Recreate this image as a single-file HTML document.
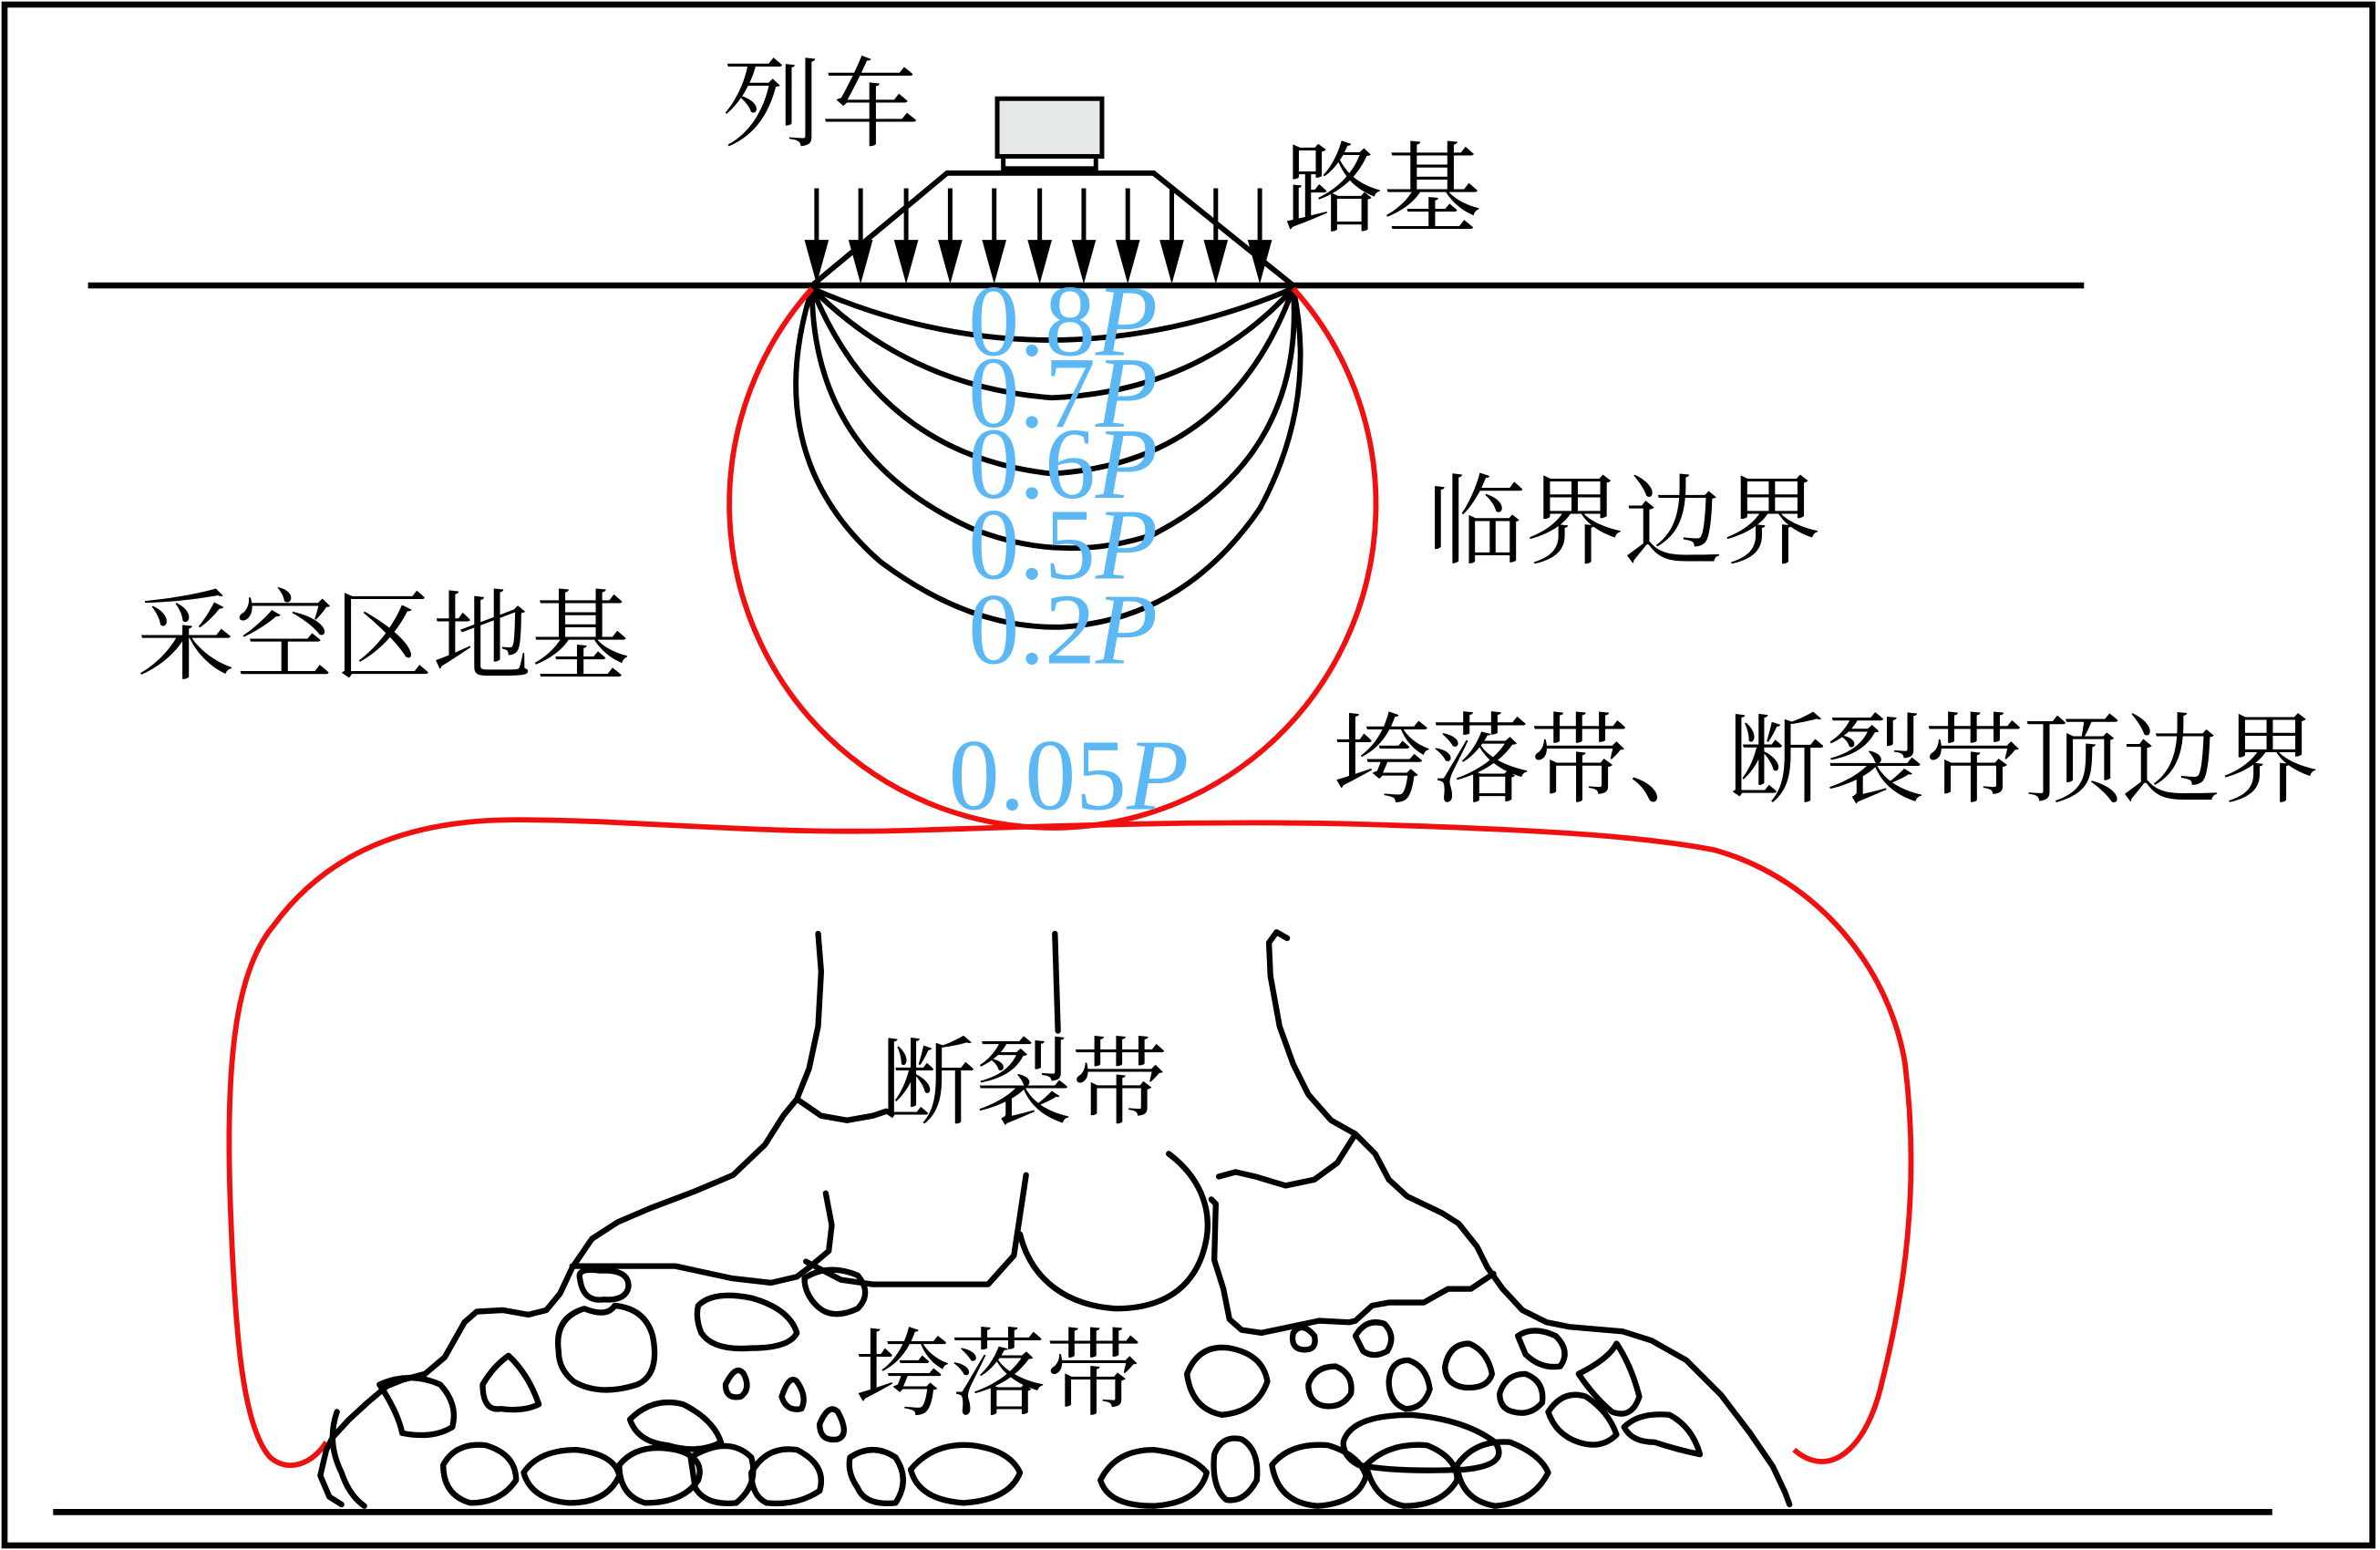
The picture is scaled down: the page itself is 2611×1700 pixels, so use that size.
<!DOCTYPE html>
<html><head><meta charset="utf-8"><style>
html,body{margin:0;padding:0;background:#fff}
svg{display:block}
.cj{font-family:"Liberation Serif","Noto Serif CJK SC",serif;fill:#000}
.bl{font-family:"Liberation Serif",serif;fill:#5bb8f4}
</style></head><body>
<svg width="2611" height="1700" viewBox="0 0 1568 1021" preserveAspectRatio="none" xmlns="http://www.w3.org/2000/svg">
<rect x="0" y="0" width="1568" height="1021" fill="#fff"/>
<rect x="3" y="3" width="1560" height="1015" fill="none" stroke="#000" stroke-width="4"/>
<line x1="58" y1="188" x2="1373" y2="188" stroke="#000" stroke-width="4"/>
<line x1="35" y1="996" x2="1497" y2="996" stroke="#000" stroke-width="4"/>
<!-- train -->
<rect x="657" y="65" width="69" height="38" fill="#e4e8e8" stroke="#000" stroke-width="3"/>
<rect x="661" y="103" width="61" height="8" fill="#fff" stroke="#000" stroke-width="3"/>
<polyline points="535,188 624,114 760,114 852,188" fill="none" stroke="#000" stroke-width="3.5"/>
<g stroke="#000" stroke-width="3">
<line x1="538" y1="124" x2="538" y2="160"/><line x1="567" y1="124" x2="567" y2="160"/><line x1="597" y1="124" x2="597" y2="160"/><line x1="626" y1="124" x2="626" y2="160"/><line x1="655" y1="124" x2="655" y2="160"/><line x1="685" y1="124" x2="685" y2="160"/><line x1="714" y1="124" x2="714" y2="160"/><line x1="743" y1="124" x2="743" y2="160"/><line x1="772" y1="124" x2="772" y2="160"/><line x1="801" y1="124" x2="801" y2="160"/><line x1="830" y1="124" x2="830" y2="160"/>
</g>
<g fill="#000">
<polygon points="530,158 546,158 538,187"/><polygon points="559,158 575,158 567,187"/><polygon points="589,158 605,158 597,187"/><polygon points="618,158 634,158 626,187"/><polygon points="647,158 663,158 655,187"/><polygon points="677,158 693,158 685,187"/><polygon points="706,158 722,158 714,187"/><polygon points="735,158 751,158 743,187"/><polygon points="764,158 780,158 772,187"/><polygon points="793,158 809,158 801,187"/><polygon points="822,158 838,158 830,187"/>
</g>
<!-- contours -->
<g fill="none" stroke="#000" stroke-width="3.5">
<path d="M535,190 Q690,258 852,190"/>
<path d="M535,190 Q600,255 693,262 Q790,258 852,190"/>
<path d="M535,190 Q580,300 693,312 Q810,305 852,190"/>
<path d="M535,190 Q535,300 640,348 Q700,372 760,352 Q860,300 852,190"/>
<path d="M535,190 Q500,300 580,370 Q640,415 700,413 Q780,408 830,335 Q868,265 852,190"/>
</g>
<!-- red boundaries -->
<path d="M535,190 A213,213 0 1,0 852,190" fill="none" stroke="#f01010" stroke-width="3.5"/>
<path d="M215,950 C205,965 190,970 178,960 C160,940 155,880 152,800 C148,700 155,640 180,610 C220,555 280,540 340,540 C420,540 500,550 600,547 C700,544 800,540 900,543 C1000,546 1080,550 1130,560 C1200,580 1245,640 1255,700 C1265,780 1255,850 1240,910 C1230,955 1205,975 1182,955" fill="none" stroke="#f01010" stroke-width="3.5"/>
<!-- fracture/caving structure -->
<g fill="none" stroke="#000" stroke-width="3.8" stroke-linejoin="round" stroke-linecap="round">
<polyline points="539,615 541,640 539,676 533,704 525,724 516,735 504,754 483,774 457,785 428,796 407,805 390,816 377,835 369,852 360,863 348,866 331,863 314,864 306,871 293,894 280,905 265,909 255,913 242,924 230,935 219,947 215,955 211,972 217,986 225,991"/>
<polyline points="525,724 541,735 558,738 575,735 584,732"/>
<polyline points="695,615 697,679"/>
<polyline points="544,786 548,807 546,824 533,835 525,841 508,845 482,842 445,834 377,834"/>
<polyline points="531,831 554,843 575,846 651,846 668,827 676,774"/>
<path d="M672,813 C680,845 705,860 735,862 C770,862 790,845 795,815 C798,795 790,775 770,760"/>
<polyline points="848,618 841,614 836,621 837,643 843,676 852,701 862,721 877,738 893,747 906,760 915,777 927,788 950,799 961,806 973,821 980,835 990,849 1003,863 1019,871 1034,874 1069,877 1088,883 1111,896 1134,919 1153,944 1168,966 1176,983 1179,991"/>
<polyline points="893,747 881,766 866,777 847,781 827,775 814,772 803,775"/>
<polyline points="798,790 801,793 800,830 806,849 810,869 818,876 831,878 850,874 869,870 889,871 893,870 904,860 915,858 938,858 954,849 969,849 984,839"/>
<!-- left rubble -->
<path d="M382,842 Q380,835 395,837 Q415,836 414,848 Q412,857 398,856 Q384,858 382,842Z"/>
<path d="M368,890 Q365,868 385,862 Q400,868 405,860 Q425,862 430,880 Q435,905 420,912 Q395,920 378,910 Q368,902 368,890Z"/>
<path d="M460,860 Q470,850 495,855 Q520,862 525,878 Q520,888 495,888 Q470,890 462,878 Q458,868 460,860Z"/>
<path d="M530,842 Q545,832 565,840 Q575,852 565,862 Q548,870 538,860 Q530,852 530,842Z"/>
<path d="M318,912 Q325,900 335,893 Q348,905 355,925 Q345,930 330,928 Q318,930 318,912Z"/>
<path d="M250,912 Q270,903 290,912 Q302,925 298,940 Q285,948 265,944 Q262,930 250,912Z"/>
<path d="M478,912 Q485,898 490,905 Q495,915 488,920 Q478,922 478,912Z"/>
<path d="M515,920 Q520,905 525,910 Q532,920 528,928 Q518,930 515,920Z"/>
<path d="M540,938 Q546,924 552,930 Q560,945 552,948 Q540,950 540,938Z"/>
<path d="M415,935 Q430,920 450,925 Q470,935 475,950 Q460,958 440,952 Q420,950 415,935Z"/>
<path d="M292,965 Q300,950 320,952 Q340,958 340,975 Q330,990 310,990 Q292,985 292,965Z"/>
<path d="M345,970 Q355,955 380,955 Q405,958 408,972 Q400,990 375,990 Q350,988 345,970Z"/>
<path d="M408,965 Q420,950 445,955 Q465,960 460,975 Q450,990 425,990 Q408,985 408,965Z"/>
<path d="M455,960 Q480,945 495,960 Q500,978 485,990 Q465,992 458,980Z"/>
<path d="M495,970 Q505,952 525,955 Q545,965 540,982 Q525,992 505,990 Q495,985 495,970Z"/>
<path d="M560,960 Q575,950 590,960 Q600,975 590,990 Q570,992 565,980 Q558,970 560,960Z"/>
<path d="M600,968 Q615,950 640,952 Q665,955 672,970 Q665,988 635,990 Q605,988 600,968Z"/>
<path d="M222,930 Q215,950 225,970 Q230,985 240,992"/>
<!-- right rubble -->
<path d="M782,905 Q790,885 810,888 Q832,892 835,910 Q828,930 805,932 Q785,928 782,905Z"/>
<path d="M852,878 Q858,870 866,880 Q868,890 858,889 Q850,888 852,878Z"/>
<path d="M862,912 Q866,900 880,900 Q892,905 890,918 Q884,928 872,926 Q862,924 862,912Z"/>
<path d="M893,880 Q900,868 912,872 Q920,880 914,890 Q905,895 898,890Z"/>
<path d="M915,910 Q916,896 928,896 Q940,900 942,915 Q938,928 926,928 Q915,924 915,910Z"/>
<path d="M952,900 Q955,885 968,885 Q980,890 983,905 Q980,915 965,914 Q952,912 952,900Z"/>
<path d="M1000,880 Q1010,873 1025,880 Q1035,890 1028,900 Q1015,902 1005,892Z"/>
<path d="M988,918 Q992,905 1005,905 Q1018,910 1016,924 Q1008,933 997,930 Q988,928 988,918Z"/>
<path d="M885,950 Q890,932 930,932 Q965,935 985,950 Q995,965 965,968 Q920,970 895,965 Q885,960 885,950Z"/>
<path d="M725,975 Q735,955 760,955 Q785,958 795,970 Q790,990 760,992 Q730,992 725,975Z"/>
<path d="M800,958 Q805,945 818,948 Q830,955 828,975 Q820,990 808,988 Q798,980 800,958Z"/>
<path d="M838,965 Q850,950 875,952 Q895,958 900,972 Q895,990 868,992 Q842,990 838,965Z"/>
<path d="M900,965 Q915,950 940,952 Q960,960 960,975 Q950,992 925,992 Q905,988 900,965Z"/>
<path d="M960,965 Q972,948 995,950 Q1015,958 1020,970 Q1010,990 985,992 Q962,988 960,965Z"/>
<path d="M1020,930 Q1030,915 1045,920 Q1060,930 1065,945 Q1055,955 1040,950 Q1025,945 1020,930Z"/>
<path d="M1070,940 Q1080,930 1100,932 Q1115,940 1120,958 Q1105,955 1090,950 Q1075,950 1070,940Z"/>
<path d="M1040,905 Q1060,895 1065,885 Q1075,900 1080,920 Q1075,935 1062,930 Q1050,920 1040,905Z"/>
</g>
<!-- labels -->
<g class="cj" font-size="65">
<text x="476" y="91">列车</text>
<text x="846" y="147">路基</text>
<text x="940" y="366">临界边界</text>
<text x="90" y="442">采空区地基</text>
<text x="878" y="523">垮落带、断裂带顶边界</text>
</g>
<g class="cj" font-size="63">
<text x="580" y="735">断裂带</text>
<text x="563" y="927">垮落带</text>
</g>
<g class="bl" font-size="67">
<text x="638" y="234">0.8<tspan font-style="italic">P</tspan></text>
<text x="638" y="281">0.7<tspan font-style="italic">P</tspan></text>
<text x="638" y="328">0.6<tspan font-style="italic">P</tspan></text>
<text x="638" y="381">0.5<tspan font-style="italic">P</tspan></text>
<text x="638" y="437">0.2<tspan font-style="italic">P</tspan></text>
<text x="625" y="533">0.05<tspan font-style="italic">P</tspan></text>
</g>
</svg>
</body></html>
